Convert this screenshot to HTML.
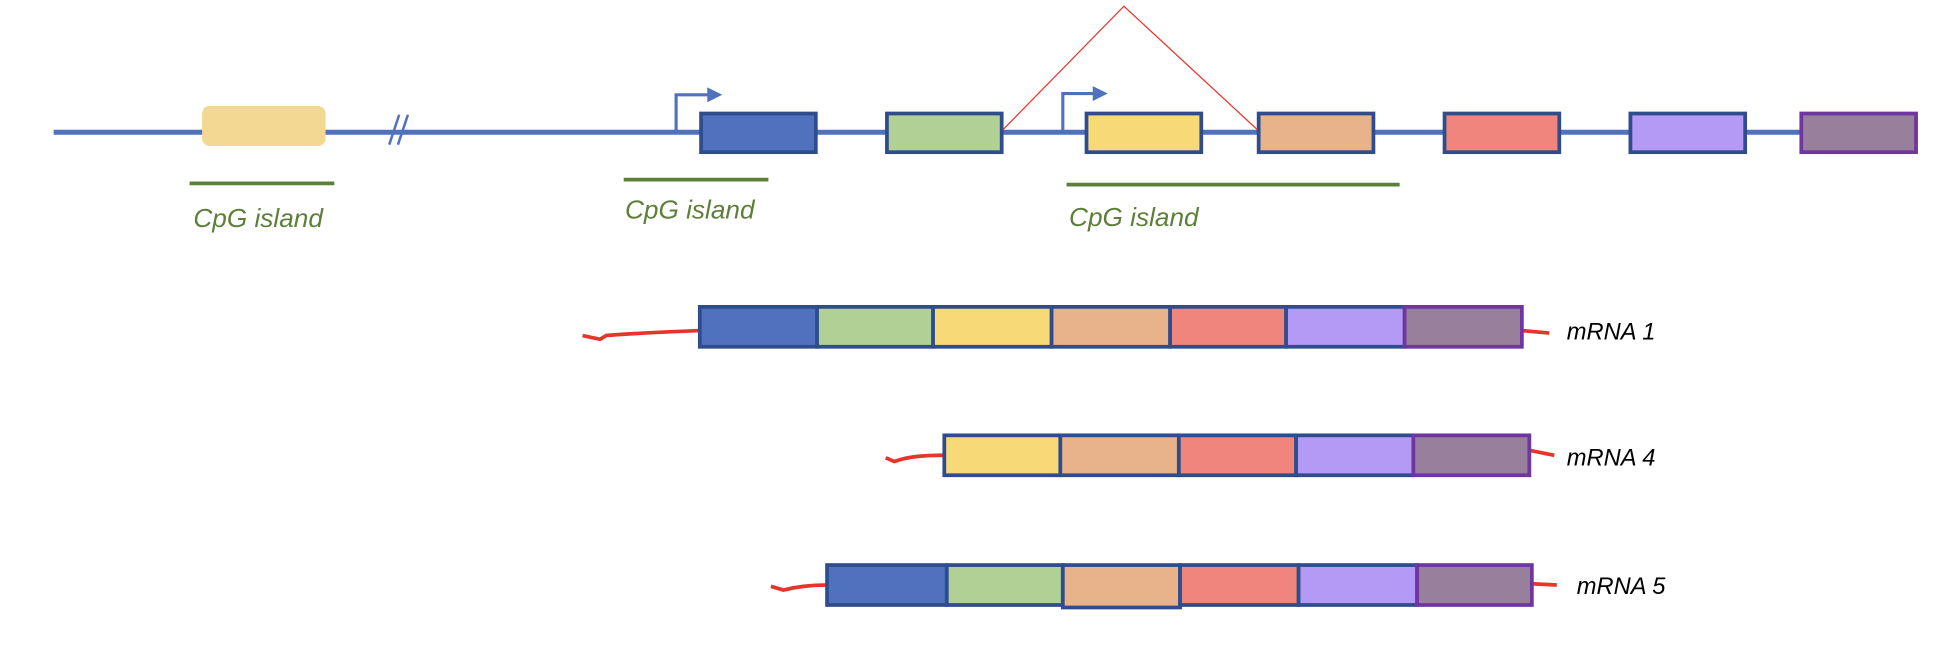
<!DOCTYPE html>
<html><head><meta charset="utf-8"><style>
html,body{margin:0;padding:0;background:#fff;width:1946px;height:658px;overflow:hidden}
svg{display:block}
text{font-family:"Liberation Sans",sans-serif;font-style:italic}
</style></head><body>
<svg width="1946" height="658" viewBox="0 0 1560 527.5" preserveAspectRatio="none" xmlns="http://www.w3.org/2000/svg">
<!-- main line -->
<line x1="43" y1="106" x2="1445" y2="106" stroke="#4F71BE" stroke-width="4"/>
<rect x="162" y="85" width="99" height="32" rx="6" fill="#F3D893"/>
<line x1="312" y1="116" x2="320" y2="92" stroke="#4F71BE" stroke-width="2"/>
<line x1="319" y1="116" x2="327" y2="92" stroke="#4F71BE" stroke-width="2"/>
<!-- promoters -->
<polyline points="542,106 542,76 568,76" fill="none" stroke="#4F71BE" stroke-width="2.5"/>
<polygon points="567,70 579,76 567,82" fill="#4F71BE"/>
<polyline points="852,106 852,75 877,75" fill="none" stroke="#4F71BE" stroke-width="2.5"/>
<polygon points="876,69 888,75 876,81" fill="#4F71BE"/>
<!-- genomic exons -->
<g stroke="#2F4D8C" stroke-width="3">
<rect x="562" y="91" width="92" height="31" fill="#4F71BE"/>
<rect x="711" y="91" width="92" height="31" fill="#B1D095"/>
<rect x="871" y="91" width="92" height="31" fill="#F8D978"/>
<rect x="1009" y="91" width="92" height="31" fill="#E8B38A"/>
<rect x="1158" y="91" width="92" height="31" fill="#EF857C"/>
<rect x="1307" y="91" width="92" height="31" fill="#B49AF5"/>
<rect x="1444" y="91" width="92" height="31" fill="#98809C" stroke="#6F35A0"/>
</g>
<polyline points="804,104 901,5 1008,104" fill="none" stroke="#E8352C" stroke-width="1"/>
<!-- CpG -->
<g stroke="#5D7F3A" stroke-width="3">
<line x1="152" y1="147" x2="268" y2="147"/>
<line x1="500" y1="144" x2="616" y2="144"/>
<line x1="855" y1="148" x2="1122" y2="148"/>
</g>
<g fill="#5D7F3A" font-size="21">
<text x="155" y="182">CpG island</text>
<text x="501" y="175">CpG island</text>
<text x="857" y="181">CpG island</text>
</g>
<!-- mRNA tails -->
<g stroke="#E8352C" stroke-width="3" fill="none">
<path d="M467,269 L481,272 L486,269 C510,267 535,266 561,265"/>
<path d="M1220,265 L1242,267"/>
<path d="M710,367 L717,370 C728,366 740,365 757,365"/>
<path d="M1226,361 L1246,365"/>
<path d="M618,470 L628,473 C640,470 650,469 663,469"/>
<path d="M1228,468 L1248,469"/>
</g>
<!-- mRNA 1 -->
<g stroke="#2F4D8C" stroke-width="3">
<rect x="561" y="246" width="94" height="32" fill="#4F71BE"/>
<rect x="655" y="246" width="93" height="32" fill="#B1D095"/>
<rect x="748" y="246" width="95" height="32" fill="#F8D978"/>
<rect x="843" y="246" width="95" height="32" fill="#E8B38A"/>
<rect x="938" y="246" width="93" height="32" fill="#EF857C"/>
<rect x="1031" y="246" width="95" height="32" fill="#B49AF5"/>
<rect x="1126" y="246" width="94" height="32" fill="#98809C" stroke="#6F35A0"/>
</g>
<!-- mRNA 4 -->
<g stroke="#2F4D8C" stroke-width="3">
<rect x="757" y="349" width="93" height="32" fill="#F8D978"/>
<rect x="850" y="349" width="95" height="32" fill="#E8B38A"/>
<rect x="945" y="349" width="94" height="32" fill="#EF857C"/>
<rect x="1039" y="349" width="94" height="32" fill="#B49AF5"/>
<rect x="1133" y="349" width="93" height="32" fill="#98809C" stroke="#6F35A0"/>
</g>
<!-- mRNA 5 -->
<g stroke="#2F4D8C" stroke-width="3">
<rect x="663" y="453" width="96" height="32" fill="#4F71BE"/>
<rect x="759" y="453" width="93" height="32" fill="#B1D095"/>
<rect x="852" y="453" width="94" height="34" fill="#E8B38A"/>
<rect x="946" y="453" width="95" height="32" fill="#EF857C"/>
<rect x="1041" y="453" width="95" height="32" fill="#B49AF5"/>
<rect x="1136" y="453" width="92" height="32" fill="#98809C" stroke="#6F35A0"/>
</g>
<g fill="#000" font-size="19">
<text x="1256" y="272">mRNA 1</text>
<text x="1256" y="373">mRNA 4</text>
<text x="1264" y="476">mRNA 5</text>
</g>
</svg>
</body></html>
